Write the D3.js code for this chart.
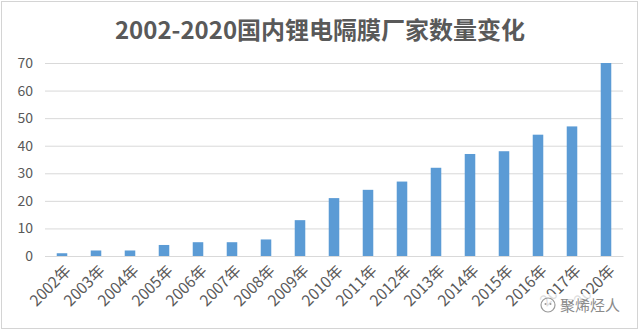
<!DOCTYPE html>
<html>
<head>
<meta charset="utf-8">
<script src="https://cdn.jsdelivr.net/npm/d3@7"></script>
<style>
  html, body { margin: 0; padding: 0; background: #fff; }
  svg { display: block; }
</style>
</head>
<body>
<script>
// Number of domestic Li-ion separator manufacturers by year
const years = ["2002年","2003年","2004年","2005年","2006年","2007年","2008年","2009年","2010年",
               "2011年","2012年","2013年","2014年","2015年","2016年","2017年","2020年"];
const counts = [1, 2, 2, 4, 5, 5, 6, 13, 21, 24, 27, 32, 37, 38, 44, 47, 70];
const yTicks = [0, 10, 20, 30, 40, 50, 60, 70];
const titleText = "2002-2020国内锂电隔膜厂家数量变化";
const watermarkText = "聚烯烃人";

const W = 640, H = 332;
const plot = { left: 45, right: 623, top: 63, bottom: 256 };
const font = "'Noto Sans CJK SC', 'Microsoft YaHei', sans-serif";
const textColor = "#595959";

const svg = d3.select("body").append("svg")
  .attr("width", W).attr("height", H)
  .style("font-family", font);

// outer chart frame
svg.append("rect")
  .attr("x", 1.5).attr("y", 1.5)
  .attr("width", W - 4).attr("height", H - 5)
  .attr("fill", "#fff").attr("stroke", "#d4d4d4");

// title
svg.append("text")
  .attr("x", 320).attr("y", 39)
  .attr("text-anchor", "middle")
  .attr("font-size", 24).attr("font-weight", "bold")
  .attr("fill", textColor)
  .text(titleText);

const x = d3.scaleBand().domain(years)
  .range([plot.left, plot.right]).paddingInner(0.69).paddingOuter(0.345);
const y = d3.scaleLinear().domain([0, 70]).range([plot.bottom, plot.top]);

// horizontal grid + y labels
const yAxis = d3.axisLeft(y).tickValues(yTicks).tickSize(-(plot.right - plot.left)).tickPadding(12);
const gy = svg.append("g").attr("transform", `translate(${plot.left},0)`).call(yAxis);
gy.select(".domain").remove();
gy.selectAll(".tick line").attr("stroke", "#d9d9d9").attr("stroke-width", 1);
gy.selectAll(".tick text")
  .attr("font-size", 14).attr("fill", textColor)
  .style("font-family", font);

// bars
svg.append("g").selectAll("rect")
  .data(counts)
  .join("rect")
  .attr("x", (d, i) => x(years[i]))
  .attr("y", d => y(d))
  .attr("width", x.bandwidth())
  .attr("height", d => y(0) - y(d))
  .attr("fill", "#5b9bd5");

// x axis labels, rotated
const xAxis = d3.axisBottom(x).tickSize(0).tickPadding(0);
const gx = svg.append("g").attr("transform", `translate(0,${plot.bottom})`).call(xAxis);
gx.select(".domain").attr("stroke", "#d9d9d9");
gx.selectAll(".tick text")
  .attr("font-size", 15.5).attr("fill", textColor)
  .style("font-family", font)
  .attr("text-anchor", "end")
  .attr("dy", "0.35em")
  .attr("transform", "translate(6,12) rotate(-45)");

// account watermark
const wm = svg.append("g").attr("transform", "translate(538,292)");
wm.append("rect").attr("x", 0).attr("y", 2).attr("width", 88).attr("height", 24)
  .attr("fill", "#fff").attr("opacity", 0.8);
wm.append("circle").attr("cx", 10).attr("cy", 13).attr("r", 7)
  .attr("fill", "none").attr("stroke", "#9a9a9a").attr("stroke-width", 1.2);
wm.append("circle").attr("cx", 7.5).attr("cy", 12).attr("r", 1).attr("fill", "#9a9a9a");
wm.append("circle").attr("cx", 12.5).attr("cy", 12).attr("r", 1).attr("fill", "#9a9a9a");
wm.append("text").attr("x", 22).attr("y", 19)
  .attr("font-size", 15).attr("fill", "#8a8a8a")
  .text(watermarkText);
</script>
</body>
</html>
